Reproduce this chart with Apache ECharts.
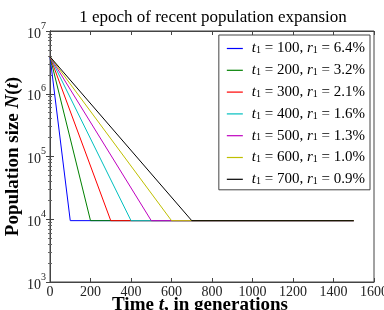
<!DOCTYPE html>
<html><head><meta charset="utf-8">
<script src="https://cdn.jsdelivr.net/npm/echarts@6/dist/echarts.min.js"></script>
<style>html,body{margin:0;padding:0;background:#fff}#c{width:384px;height:310px}</style>
</head><body><div id="c"></div>
<script>
// ---- data ----
const epochStarts = [100, 200, 300, 400, 500, 600, 700];          // t1, generations
const growthRates = ['6.4', '3.2', '2.1', '1.6', '1.3', '1.0', '0.9']; // r1, percent
const presentSize = [3.9e6, 3.9e6, 3.9e6, 3.9e6, 3.9e6, 3.9e6, 3.9e6];  // N(0)
const ancestralSize = [9500, 9500, 9500, 9500, 9500, 9500, 9500];       // N before expansion
const endTime = 1500;
const xTicks = [0, 200, 400, 600, 800, 1000, 1200, 1400, 1600];
const yTicks = [1e3, 1e4, 1e5, 1e6, 1e7];
const colors = ['#0000ff', '#008000', '#ff0000', '#00bfbf', '#bf00bf', '#bfbf00', '#000000'];

const FONT = 'Liberation Serif';
const names = epochStarts.map((t, i) => 's' + i);
const series = epochStarts.map((t, i) => ({
  name: names[i], type: 'line', symbol: 'none', animation: false,
  lineStyle: { width: 1, color: colors[i] }, itemStyle: { color: colors[i] },
  data: [[0, presentSize[i]], [t, ancestralSize[i]], [endTime, ancestralSize[i]]]
}));

const chart = echarts.init(document.getElementById('c'), null, { renderer: 'canvas' });
const supLabel = v => { const e = Math.round(Math.log10(v)); return '{b|10}{s|' + e + '}'; };
chart.setOption({
  backgroundColor: '#fff',
  animation: false,
  title: {
    text: '1 epoch of recent population expansion', left: 208, top: 4, textAlign: 'center',
    textStyle: { fontFamily: FONT, fontSize: 17, fontWeight: 'normal', color: '#000' }
  },
  grid: { left: 50, right: 10, top: 31, bottom: 28, show: true, borderColor: '#444', borderWidth: 1,
          containLabel: false, outerBoundsMode: 'none' },
  legend: {
    data: names, orient: 'vertical', right: 14, top: 35,
    backgroundColor: '#fff', borderColor: '#444', borderWidth: 1, borderRadius: 0,
    padding: [6, 5, 3, 8], itemGap: 6.8, itemWidth: 16, itemHeight: 1.2, icon: 'rect',
    formatter: n => {
      const i = names.indexOf(n);
      return '{i|t}{sub|1}{n| = ' + epochStarts[i] + ', }{i|r}{sub|1}{n| = ' + growthRates[i] + '%}';
    },
    textStyle: {
      fontFamily: FONT, fontSize: 15, color: '#000', padding: [0, 0, 0, 4],
      rich: {
        i: { fontFamily: FONT, fontSize: 15, fontStyle: 'italic', color: '#000', lineHeight: 14 },
        n: { fontFamily: FONT, fontSize: 15, color: '#000', lineHeight: 14 },
        sub: { fontFamily: FONT, fontSize: 10, color: '#000', verticalAlign: 'bottom', lineHeight: 14 }
      }
    }
  },
  xAxis: [{
    type: 'value', min: 0, max: 1600, interval: 200,
    name: '{b|Time }{bi|t}{b|, in generations}', nameLocation: 'middle', nameGap: 14,
    nameMoveOverlap: false,
    nameTextStyle: { padding: [0, 24, 0, 0], rich: {
      b: { fontFamily: FONT, fontSize: 19, fontWeight: 'bold', color: '#000' },
      bi: { fontFamily: FONT, fontSize: 19, fontWeight: 'bold', fontStyle: 'italic', color: '#000' } } },
    axisLine: { show: true, lineStyle: { color: '#444' } },
    axisTick: { inside: true, length: 4, lineStyle: { color: '#444' } },
    axisLabel: { fontFamily: FONT, fontSize: 14, color: '#222', margin: 3, formatter: v => String(v),
                 hideOverlap: false },
    splitLine: { show: false }
  }, {
    type: 'value', min: 0, max: 1600, interval: 200, position: 'top',
    axisLine: { show: true, lineStyle: { color: '#444' } },
    axisTick: { inside: true, length: 4, lineStyle: { color: '#444' } },
    axisLabel: { show: false }, splitLine: { show: false }
  }],
  yAxis: [{
    type: 'log', min: 1e3, max: 1e7, logBase: 10,
    name: '{b|Population size }{bi|N}{b|(}{bi|t}{b|)}', nameLocation: 'middle', nameGap: 27, nameRotate: 90,
    nameMoveOverlap: false,
    nameTextStyle: { rich: {
      b: { fontFamily: FONT, fontSize: 19, fontWeight: 'bold', color: '#000' },
      bi: { fontFamily: FONT, fontSize: 19, fontWeight: 'bold', fontStyle: 'italic', color: '#000' } } },
    axisLine: { show: true, lineStyle: { color: '#444' } },
    axisTick: { inside: true, length: 4, lineStyle: { color: '#444' } },
    minorTick: { show: true, splitNumber: 9, length: 2, lineStyle: { color: '#666' } },
    axisLabel: {
      margin: 4, formatter: supLabel,
      rich: {
        b: { fontFamily: FONT, fontSize: 14, color: '#222', lineHeight: 20, verticalAlign: 'bottom' },
        s: { fontFamily: FONT, fontSize: 10, color: '#222', verticalAlign: 'top', lineHeight: 20 }
      }
    },
    splitLine: { show: false }
  }, {
    type: 'log', min: 1e3, max: 1e7, logBase: 10, position: 'right',
    axisLine: { show: true, lineStyle: { color: '#444' } },
    axisTick: { inside: true, length: 4, lineStyle: { color: '#444' } },
    minorTick: { show: true, splitNumber: 9, length: 2, lineStyle: { color: '#666' } },
    axisLabel: { show: false }, splitLine: { show: false }
  }],
  series: series
});
</script></body></html>
